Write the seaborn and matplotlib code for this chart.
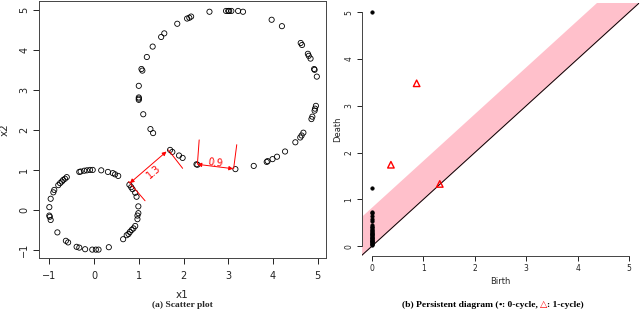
import numpy as np
import pandas as pd
import matplotlib
matplotlib.use("Agg")
import matplotlib.pyplot as plt
import seaborn as sns

# ---- data ----
# big circle (centre ~ (3,3), r ~ 2)
big_x = [1.0, 1.06, 1.08, 1.18, 1.31, 1.5, 1.57, 1.86, 2.08, 2.13, 2.17, 2.58, 2.95, 3.0, 3.02, 3.07,
         3.22, 3.33, 3.97, 4.2, 4.62, 4.65, 4.78, 4.8, 4.84, 4.92, 4.93, 4.98, 4.96, 4.94, 4.93, 4.88,
         4.86, 4.68, 4.64, 4.61, 4.5, 4.27, 4.09, 3.99, 3.88, 3.86, 3.57, 3.16, 2.29, 2.31, 1.9, 1.98,
         1.7, 1.75, 1.26, 1.32, 1.1, 1.0, 1.0, 1.0]
big_y = [3.1, 3.52, 3.48, 3.82, 4.08, 4.32, 4.41, 4.65, 4.78, 4.8, 4.83, 4.95, 4.97, 4.97, 4.97, 4.97,
         4.97, 4.95, 4.75, 4.59, 4.17, 4.12, 3.9, 3.85, 3.78, 3.52, 3.5, 3.33, 2.6, 2.53, 2.48, 2.33,
         2.27, 1.93, 1.86, 1.81, 1.69, 1.46, 1.33, 1.27, 1.22, 1.2, 1.1, 1.02, 1.14, 1.13, 1.36, 1.3,
         1.5, 1.45, 2.02, 1.92, 2.39, 2.81, 2.78, 2.75]
# small circle (centre (0,0), r ~ 1)
small_x = [-1.0, -1.0, -0.99, -0.97, -0.97, -0.91, -0.89, -0.82, -0.8, -0.76, -0.72, -0.69, -0.65,
           -0.61, -0.63, -0.58, -0.39, -0.33, -0.2, -0.04, 0.04, 0.1, 0.33, -0.33, -0.3, -0.22, -0.16,
           -0.09, -0.03, 0.16, 0.31, 0.42, 0.47, 0.54, 0.79, 0.83, 0.86, 0.92, 0.95, 0.99, 0.99, 0.97,
           0.97, 0.92, 0.88, 0.84, 0.8, 0.77, 0.73, 0.65]
small_y = [0.07, -0.14, -0.17, -0.25, 0.28, 0.44, 0.5, -0.56, 0.62, 0.67, 0.71, 0.75, 0.78, 0.82,
           -0.77, -0.81, -0.92, -0.94, -0.98, -0.99, -0.99, -0.99, -0.93, 0.95, 0.96, 0.98, 0.99, 1.0,
           1.0, 0.99, 0.95, 0.92, 0.89, 0.85, 0.63, 0.57, 0.52, 0.43, 0.33, 0.09, -0.08, -0.14, -0.23,
           -0.4, -0.46, -0.5, -0.55, -0.6, -0.63, -0.73]

# gap annotations on the scatter plot
gap_labels = ["1.3", "0.9"]
gap_from = [(0.8, 0.67), (2.31, 1.14)]
gap_to = [(1.62, 1.46), (3.11, 1.03)]
gap_ticks = [[(0.77, 0.71), (1.14, 0.23), (1.66, 1.5), (1.98, 1.04)],
             [(2.35, 1.75), (2.31, 1.14), (3.19, 1.63), (3.12, 1.03)]]

# persistence diagram
h0_birth = [0.0] * 32
h0_death = [0.02, 0.04, 0.05, 0.07, 0.08, 0.1, 0.11, 0.12, 0.14, 0.15, 0.17, 0.18, 0.2, 0.21, 0.23,
            0.25, 0.27, 0.29, 0.31, 0.33, 0.35, 0.37, 0.4, 0.42, 0.45, 0.54, 0.59, 0.64, 0.7, 0.73,
            1.25, 5.0]
h1_birth = [0.37, 0.87, 1.32]
h1_death = [1.74, 3.48, 1.33]
band_width = 0.84

pts = pd.DataFrame({"x1": big_x + small_x, "x2": big_y + small_y})
h0 = pd.DataFrame({"Birth": h0_birth, "Death": h0_death})
h1 = pd.DataFrame({"Birth": h1_birth, "Death": h1_death})

sns.set_style("ticks")
plt.rcParams["font.family"] = ["DejaVu Sans"]
plt.rcParams["axes.linewidth"] = 0.7

fig = plt.figure(figsize=(6.4, 3.12), dpi=100)

# ---- (a) scatter plot ----
ax1 = fig.add_axes([0.061, 0.173, 0.448, 0.824])
sns.scatterplot(data=pts, x="x1", y="x2", ax=ax1, marker="o", s=14,
                facecolors="none", edgecolor="black", linewidth=0.6)
for lab, a, b, ticks in zip(gap_labels, gap_from, gap_to, gap_ticks):
    ax1.annotate("", xy=b, xytext=a,
                 arrowprops=dict(arrowstyle="<|-|>", color="red", lw=0.7,
                                 mutation_scale=6, shrinkA=0, shrinkB=0))
    for p, q in zip(ticks[0::2], ticks[1::2]):
        ax1.plot([p[0], q[0]], [p[1], q[1]], color="red", lw=0.7)
    # rotate label along the arrow (in screen space)
    ang = np.degrees(np.arctan2((b[1] - a[1]) * 40, (b[0] - a[0]) * 44.8))
    mx, my = (a[0] + b[0]) / 2, (a[1] + b[1]) / 2
    off = (0.13, -0.12) if lab == "1.3" else (0.0, 0.1)
    ax1.text(mx + off[0], my + off[1], lab, color="red", fontsize=7,
             rotation=ang, ha="center", va="center", rotation_mode="anchor")
ax1.set_xlim(-1.23, 5.18)
ax1.set_ylim(-1.2, 5.22)
ax1.set_xticks(range(-1, 6))
ax1.set_yticks(range(-1, 6))
ax1.set_xticklabels([str(v).replace("-", "\u2212") for v in range(-1, 6)])
ax1.set_yticklabels([str(v).replace("-", "\u2212") for v in range(-1, 6)],
                    rotation=90, va="center")
ax1.tick_params(labelsize=7, length=4, width=0.7, colors="#222222", pad=3)
ax1.tick_params(axis="x", pad=5)
ax1.set_xlabel("x1", fontsize=7.5, labelpad=7)
ax1.set_ylabel("x2", fontsize=7.5, labelpad=7)
for sp in ax1.spines.values():
    sp.set_visible(True)
    sp.set_color("#444444")

# ---- (b) persistence diagram ----
ax2 = fig.add_axes([0.565, 0.181, 0.434, 0.81])
xs = np.array([-0.2, 5.2])
ax2.fill_between(xs, xs, xs + band_width, color="pink", lw=0, zorder=1)
ax2.axline((0, 0), slope=1, color="black", lw=0.7, zorder=2)
sns.scatterplot(data=h0, x="Birth", y="Death", ax=ax2, marker="o", s=7,
                color="black", edgecolor="black", linewidth=0.3, zorder=3)
sns.scatterplot(data=h1, x="Birth", y="Death", ax=ax2, marker="^", s=22,
                facecolors="none", edgecolor="red", linewidth=1.0, zorder=3)
ax2.set_xlim(-0.2, 5.2)
ax2.set_ylim(-0.2, 5.2)
ax2.set_xticks(range(0, 6))
ax2.set_yticks(range(0, 6))
ax2.set_yticklabels([str(v) for v in range(0, 6)], rotation=90, va="center")
ax2.tick_params(labelsize=5.5, length=3.5, width=0.7, colors="#222222", pad=2.5)
ax2.set_xlabel("Birth", fontsize=6, labelpad=3)
ax2.set_ylabel("Death", fontsize=6, labelpad=1.5)
sns.despine(ax=ax2)
ax2.spines["left"].set_bounds(0, 5)
ax2.spines["bottom"].set_bounds(0, 5)
ax2.spines["left"].set_color("#444444")
ax2.spines["bottom"].set_color("#444444")

# ---- captions ----
cap = dict(fontsize=6.8, fontweight="bold", family=["Liberation Serif", "DejaVu Sans"])
fig.text(0.285, 0.01, "(a) Scatter plot", ha="center", va="bottom", **cap)
parts = [("(b) Persistent diagram (", "black"), ("\u2022", "black"), (": 0-cycle, ", "black"),
         ("\u25b3", "red"), (": 1-cycle)", "black")]
prev = fig.text(0.628, 0.01, parts[0][0], ha="left", va="bottom", color=parts[0][1], **cap)
# chain the remaining pieces so the triangle can be red
for s, c in parts[1:]:
    prev = plt.annotate(s, xy=(1, 0), xycoords=prev, ha="left", va="bottom", color=c,
                        annotation_clip=False, **cap)

fig.savefig("out.png", dpi=100)
